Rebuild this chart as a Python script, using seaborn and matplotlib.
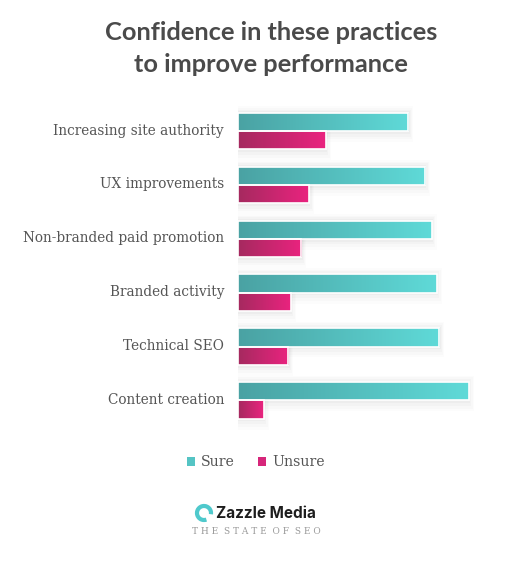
import numpy as np
import pandas as pd
import matplotlib
matplotlib.use("Agg")
import matplotlib.pyplot as plt
import matplotlib.transforms as mtransforms
import seaborn as sns
from matplotlib.patches import Rectangle, Arc
from matplotlib.colors import LinearSegmentedColormap

categories = ["Increasing site authority", "UX improvements", "Non-branded paid promotion",
              "Branded activity", "Technical SEO", "Content creation"]
sure = [66, 72.5, 75, 77, 78, 89.5]
unsure = [34, 27.5, 24.5, 20.5, 19.5, 10]
series = ["Sure", "Unsure"]

df = pd.DataFrame({
    "practice": categories * 2,
    "value": sure + unsure,
    "answer": ["Sure"] * len(categories) + ["Unsure"] * len(categories),
})

sns.set_theme(style="white")
plt.rcParams['font.family'] = ['DejaVu Sans']

W, H = 516, 564
fig = plt.figure(figsize=(W / 100, H / 100), dpi=100)
fig.patch.set_facecolor("white")
ax = fig.add_axes([238 / W, 1 - 432.8 / H, 258 / W, 334 / H])

pal = {"Sure": "#55c4c4", "Unsure": "#d6267a"}
sns.barplot(data=df, y="practice", x="value", hue="answer", order=categories,
            hue_order=series, palette=pal, orient="h", width=0.68, gap=0,
            edgecolor="white", linewidth=1.2, ax=ax, legend=False)

ax.set_xlim(0, 100)
ax.set_ylim(5.6, -0.6)
ax.set_xlabel("")
ax.set_ylabel("")
ax.set_xticks([])
for s in ax.spines.values():
    s.set_visible(False)
ax.tick_params(axis="y", length=0, pad=10)
offset = mtransforms.ScaledTranslation(0, 2 / 100, fig.dpi_scale_trans)
for lbl in ax.get_yticklabels():
    lbl.set_fontfamily("DejaVu Serif")
    lbl.set_fontsize(9.8)
    lbl.set_color("#555555")
    lbl.set_transform(lbl.get_transform() + offset)

cmaps = {
    "Sure": LinearSegmentedColormap.from_list("s", ["#4aa2a3", "#5fdad8"]),
    "Unsure": LinearSegmentedColormap.from_list("u", ["#a52a5f", "#ea237f"]),
}
grad = np.linspace(0, 1, 256).reshape(1, -1)
patches = list(ax.patches)
for i, p in enumerate(patches):
    key = "Sure" if i < len(categories) else "Unsure"
    x0, y0 = p.get_x(), p.get_y()
    w, h = p.get_width(), p.get_height()
    # soft shadow
    for k, a in [(4.0, 0.012), (3.0, 0.014), (2.0, 0.018), (1.0, 0.022)]:
        sh = Rectangle((x0 - 0.4 * k, y0 - 0.03 * k), w + 0.9 * k, h + 0.08 * k,
                       facecolor="#000000", alpha=a, edgecolor="none", zorder=0.5)
        ax.add_patch(sh)
    im = ax.imshow(grad, cmap=cmaps[key], aspect="auto",
                   extent=(x0, x0 + w, y0 + h, y0), zorder=p.get_zorder() + 0.1)
    im.set_clip_path(p)
    p.set_facecolor("none")
    p.set_zorder(p.get_zorder() + 0.2)
ax.set_xlim(0, 100)
ax.set_ylim(5.6, -0.6)

# Title
fig.text(271 / W, 1 - 33 / H, "Confidence in these practices", ha="center", va="center",
         fontsize=18.3, fontweight="bold", color="#4a4a4a", family="Lato")
fig.text(271 / W, 1 - 65 / H, "to improve performance", ha="center", va="center",
         fontsize=18.3, fontweight="bold", color="#4a4a4a", family="Lato")

# Legend
fig.patches.append(Rectangle((187 / W, 1 - 466 / H), 8 / W, 9 / H, transform=fig.transFigure,
                             facecolor=pal["Sure"], edgecolor="none"))
fig.text(201 / W, 1 - 462 / H, "Sure", ha="left", va="center", fontsize=10.2,
         color="#555555", family="DejaVu Serif")
fig.patches.append(Rectangle((258 / W, 1 - 466 / H), 8 / W, 9 / H, transform=fig.transFigure,
                             facecolor=pal["Unsure"], edgecolor="none"))
fig.text(272 / W, 1 - 462 / H, "Unsure", ha="left", va="center", fontsize=10.2,
         color="#555555", family="DejaVu Serif")

# Logo
arc = Arc((204 / 100, (H - 513) / 100), 0.14, 0.14, theta1=-10, theta2=290,
          transform=fig.dpi_scale_trans, color="#4fc9cc", linewidth=3)
fig.patches.append(arc)
fig.text(216 / W, 1 - 514 / H, "Zazzle Media", ha="left", va="center", fontsize=11,
         fontweight="bold", color="#1e1e1e", family="Inter")
fig.text(256 / W, 1 - 531 / H, "T H E  S T A T E  O F  S E O", ha="center", va="center",
         fontsize=6.5, color="#9a9a9a", family="DejaVu Serif")

fig.savefig("out.png", dpi=100, facecolor="white")
